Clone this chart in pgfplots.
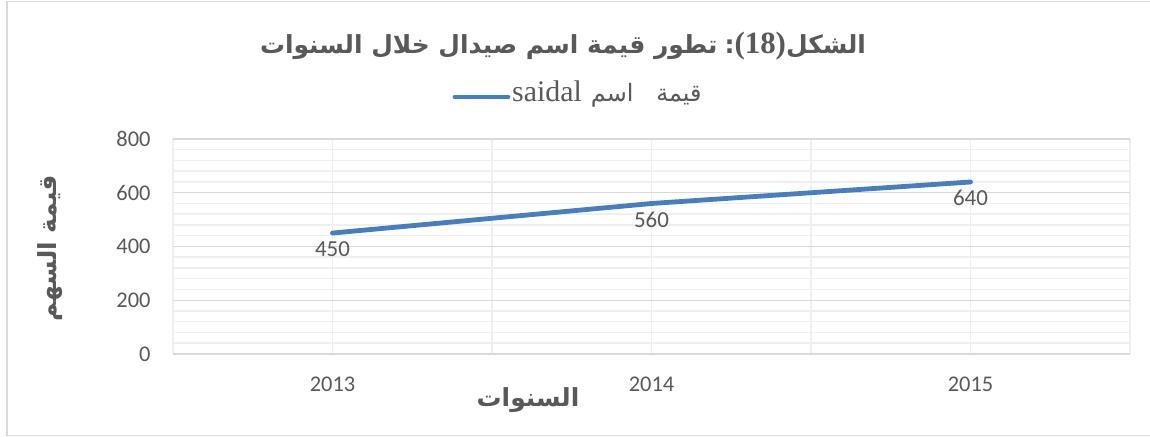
\documentclass[border=0pt]{standalone}
\usepackage{pgfplots}
\pgfplotsset{compat=1.18}
\usepackage{fontspec}
\setmainfont{Carlito}
\newfontfamily\arabicfont[Script=Arabic]{DejaVu Sans}
\newfontfamily\serifl{Liberation Serif}
\TeXXeTstate=1
\definecolor{lineblue}{HTML}{4A7EBB}
\definecolor{txtgray}{HTML}{595959}
\definecolor{majgrid}{HTML}{D9D9D9}
\definecolor{mingrid}{HTML}{EFEFEF}
\begin{document}
\begin{tikzpicture}[x=1bp,y=1bp]
\useasboundingbox (0,0) rectangle (1150,437);
\fill[white] (0,0) rectangle (1150,437);
\draw[majgrid, line width=1.2bp] (7,1.5) rectangle (1160,435.5);
\begin{axis}[
  at={(173bp,83bp)}, anchor=south west,
  scale only axis, width=957bp, height=215bp,
  xmin=-0.5, xmax=2.5, ymin=0, ymax=800,
  xtick={0,1,2}, xticklabels={2013,2014,2015},
  minor xtick={-0.5,0.5,1.5,2.5},
  ytick={0,200,400,600,800},
  minor y tick num=4,
  grid=both,
  major x grid style={mingrid, line width=1.5bp},
  minor x grid style={mingrid, line width=1.5bp},
  major y grid style={majgrid, line width=1.3bp},
  minor y grid style={mingrid, line width=1.5bp},
  axis line style={draw=none},
  major tick length=0pt, minor tick length=0pt,
  /pgf/number format/assume math mode=true,
  tick label style={font=\fontsize{22.5}{26}\selectfont, text=txtgray},
  xticklabel style={yshift=-19bp},
  yticklabel style={xshift=-19bp},
  nodes near coords,
  nodes near coords style={anchor=center, yshift=-16bp, font=\fontsize{23}{27}\selectfont, text=txtgray},
  clip=false,
]
\addplot[lineblue, line width=4.8bp, line cap=round, line join=round] coordinates {(0,450) (1,560) (2,640)};
\end{axis}
% title
\node[text=txtgray, inner sep=0pt] at (563,391) {{\arabicfont\bfseries\fontsize{25}{30}\selectfont\beginR تطور قيمة اسم صيدال خلال السنوات\endR}\hspace{7bp}{\arabicfont\bfseries\fontsize{25}{30}\selectfont:}{\serifl\bfseries\fontsize{31}{34}\selectfont(18)}{\arabicfont\bfseries\fontsize{25}{30}\selectfont\beginR الشكل\endR}};
% legend
\draw[lineblue, line width=4.8bp, line cap=round] (455,340) -- (508,340);
\node[text=txtgray, anchor=west, inner sep=0pt] at (512,343) {{\serifl\fontsize{30}{34}\selectfont saidal}\hspace{9bp}{\arabicfont\fontsize{24}{28}\selectfont\beginR قيمة\ \ \ اسم\endR}};
% axis labels
\node[text=txtgray, inner sep=0pt] at (528,37) {\arabicfont\bfseries\fontsize{25}{30}\selectfont\beginR السنوات\endR};
\node[text=txtgray, inner sep=0pt, rotate=90] at (50,189) {\arabicfont\bfseries\fontsize{25}{30}\selectfont\beginR قيمة السهم\endR};
\end{tikzpicture}
\end{document}
